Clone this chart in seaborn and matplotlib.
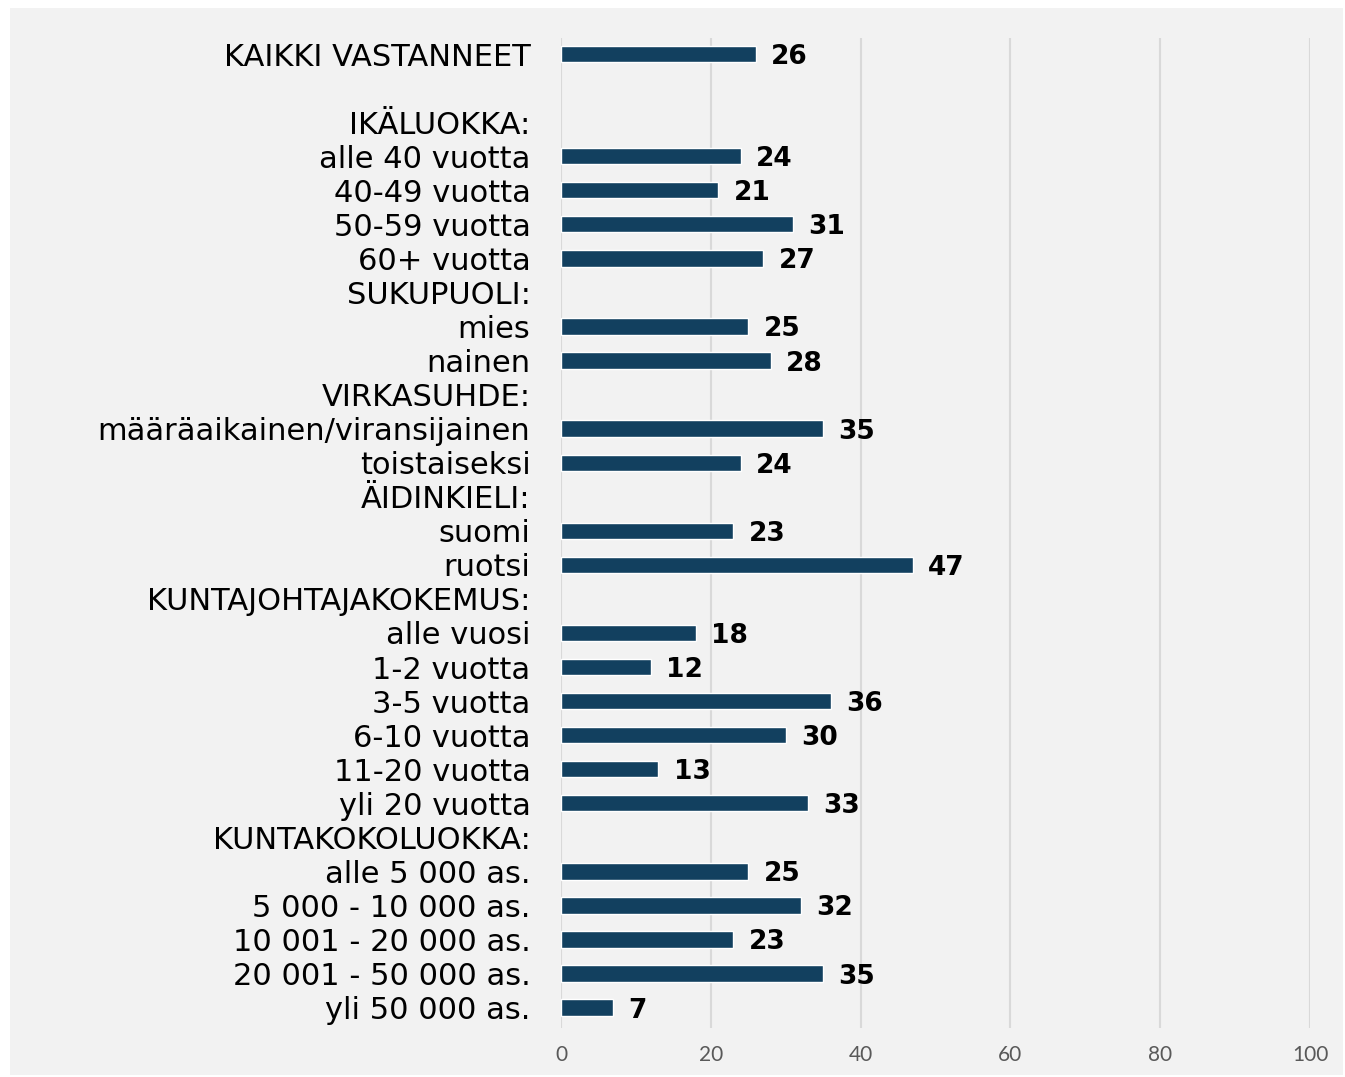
import pandas as pd
import matplotlib.pyplot as plt
import seaborn as sns
from matplotlib.patches import Rectangle

# Rows from top to bottom; None = header row without bar
labels = ['KAIKKI VASTANNEET', ' ',
          'IKÄLUOKKA:', 'alle 40 vuotta', '40-49 vuotta', '50-59 vuotta', '60+ vuotta',
          'SUKUPUOLI:', 'mies', 'nainen',
          'VIRKASUHDE:', 'määräaikainen/viransijainen', 'toistaiseksi',
          'ÄIDINKIELI:', 'suomi', 'ruotsi',
          'KUNTAJOHTAJAKOKEMUS:', 'alle vuosi', '1-2 vuotta', '3-5 vuotta',
          '6-10 vuotta', '11-20 vuotta', 'yli 20 vuotta',
          'KUNTAKOKOLUOKKA:', 'alle 5 000 as.', '5 000 - 10 000 as.',
          '10 001 - 20 000 as.', '20 001 - 50 000 as.', 'yli 50 000 as.']
values = [26, None,
          None, 24, 21, 31, 27,
          None, 25, 28,
          None, 35, 24,
          None, 23, 47,
          None, 18, 12, 36, 30, 13, 33,
          None, 25, 32, 23, 35, 7]
x_ticks = [0, 20, 40, 60, 80, 100]

bar_color = '#12405f'
panel_color = '#f2f2f2'

df = pd.DataFrame({'label': labels, 'value': values}).dropna()

sns.set_style('white')
plt.rcParams['font.family'] = ['DejaVu Sans']

fig = plt.figure(figsize=(13.45, 10.77), dpi=100)
fig.patch.set_facecolor('white')
fig.patches.append(Rectangle((10 / 1345, 1 - 1075 / 1077), 1333 / 1345, 1067 / 1077,
                             transform=fig.transFigure, facecolor=panel_color,
                             edgecolor='none', zorder=-10))

ax = fig.add_axes([561 / 1345, 1 - 1028 / 1077, (1310 - 561) / 1345, 990 / 1077])
ax.set_facecolor('none')

sns.barplot(data=df, x='value', y='label', order=labels, orient='h',
            color=bar_color, saturation=1, width=0.48, ax=ax, zorder=3)

for c in ax.containers:
    texts = ax.bar_label(c, fmt='%d', padding=11, fontsize=19, fontweight='bold',
                         color='black')
    for t in texts:
        t.set_va('center_baseline')

ax.set_xlim(0, 100)
ax.set_ylim(28.6, -0.47)
ax.set_xticks(x_ticks)
ax.set_xticklabels([str(t) for t in x_ticks])
ax.set_xlabel('')
ax.set_ylabel('')

ax.grid(axis='x', color='#d9d9d9', linewidth=1.5, zorder=0)
ax.grid(axis='y', visible=False)
for s in ax.spines.values():
    s.set_visible(False)

ax.tick_params(axis='y', length=0, pad=22, labelsize=22, labelcolor='black')
ax.tick_params(axis='x', length=0, pad=12, labelsize=15, labelcolor='#595959')
for t in ax.get_xticklabels():
    t.set_family(['Lato', 'DejaVu Sans'])

fig.savefig('out.png', dpi=100)
